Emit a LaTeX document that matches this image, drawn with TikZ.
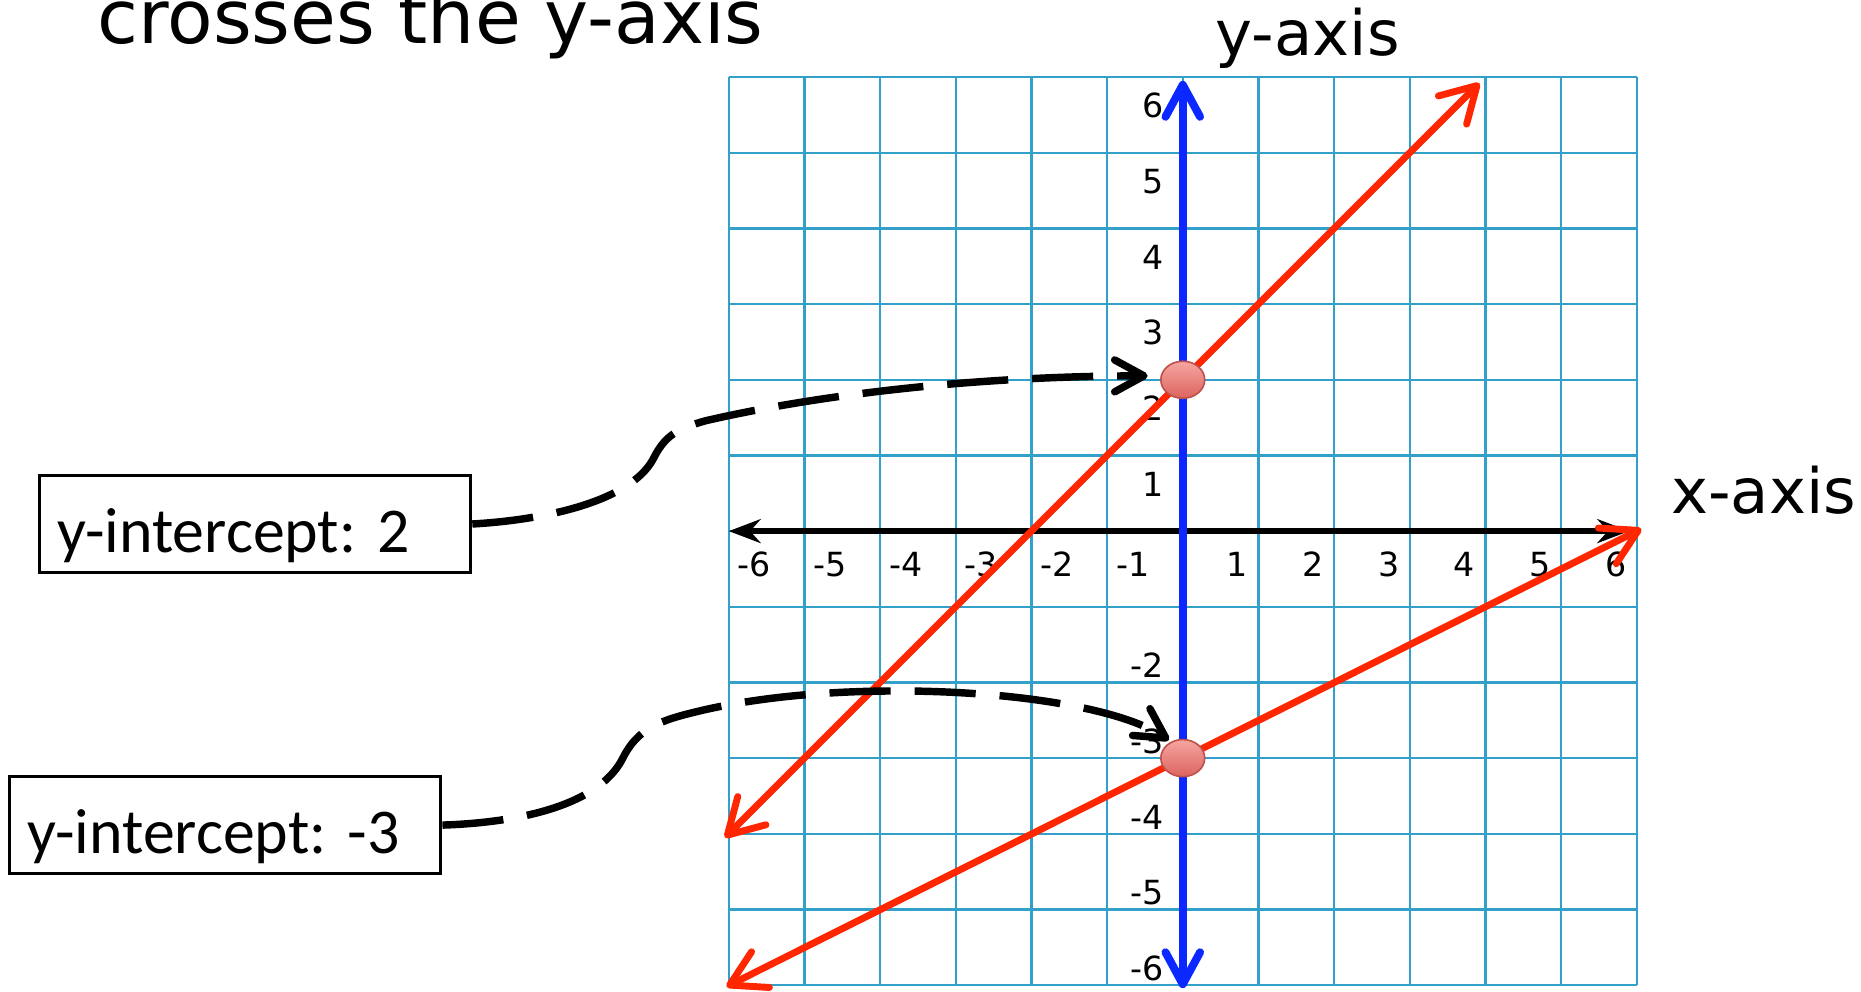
\documentclass[tikz,border=0pt]{standalone}
\usepackage{fontspec}
\setmainfont{DejaVu Sans}
\newfontfamily\calfont{Carlito}
\usetikzlibrary{arrows.meta,positioning,calc,shapes.geometric}

\definecolor{gridline}{RGB}{50,160,200}
\definecolor{yaxisblue}{RGB}{10,40,255}
\definecolor{graphred}{RGB}{255,38,0}
\definecolor{dotrim}{RGB}{190,80,75}
\definecolor{dottop}{RGB}{246,165,160}
\definecolor{dotbot}{RGB}{220,100,95}

\begin{document}
\begin{tikzpicture}[>={Straight Barb[length=12pt,width=13pt,round]}]
  \tikzstyle{tick}=[inner sep=0pt, font=\fontsize{12.5}{15}\selectfont]
  \tikzstyle{redline}=[graphred, line width=2.6pt, {Straight Barb[length=13pt,width=15pt,round]}-{Straight Barb[length=13pt,width=15pt,round]}]
  \tikzstyle{labelbox}=[draw, line width=1.2pt, inner xsep=0.24cm, inner ysep=0pt, text width=5.22cm, minimum height=1.28cm, text height=0.9cm, text depth=0.14cm, align=left, font=\calfont\fontsize{24}{29}\selectfont\frenchspacing]
  \tikzstyle{icpt}=[ellipse, inner sep=0pt, minimum width=0.58cm, minimum height=0.49cm, draw=dotrim, line width=0.6pt, top color=dottop, bottom color=dotbot]
  \tikzstyle{lead}=[line width=2.8pt, dash pattern=on 23pt off 9pt, -{Straight Barb[length=11pt,width=12pt,round]}]
  \useasboundingbox (-15.631,-6.078) rectangle (8.963,7.019);

  % grid and numbers
  \draw[gridline, line width=0.9pt] (-6,-6) grid (6,6);
  \foreach \k [count=\i] in {-6,...,-2} {
    \node[tick, anchor=base east] (yn\i) at (-0.24,\k+0.06) {\k};
  }
  \foreach \k [count=\i] in {-6,...,-1} {
    \node[tick, anchor=base] (xn\i) at (\k+0.34,-0.6) {\k};
  }
  \foreach \k in {1,...,6} {
    \node[tick, anchor=base] (xp\k) at (\k-0.28,-0.6) {\k};
    \node[tick, anchor=base east] (yp\k) at (-0.24,\k-0.54) {\k};
  }

  % axes
  \draw[line width=2.4pt, {Stealth[length=12pt,width=9pt,inset=4pt]}-{Stealth[length=12pt,width=9pt,inset=4pt]}] (-6,0) -- (5.9,0);
  \draw[yaxisblue, line width=3pt, <->] (0,-6.04) -- (0,5.95);

  % the two lines
  \draw[redline] (-6.05,-4.05) -- (3.92,5.92);
  \draw[redline] (-6.03,-6.02) -- (6.06,0.03);

  \node[icpt] (ptA) at (0,2) {};
  \node[icpt] (ptB) at (0,-3) {};

  \node[anchor=base west, inner sep=0pt, font=\fontsize{28}{34}\selectfont] (title) at (-14.35,6.44) {crosses the y-axis};
  \node[anchor=base west, inner sep=0pt, font=\fontsize{23.5}{28}\selectfont] (ylbl) at (0.43,6.29) {y-axis};
  \node[anchor=base west, inner sep=0pt, font=\fontsize{23.5}{28}\selectfont] (xlbl) at (6.45,0.235) {x-axis};

  \node[labelbox] (box2) at (-12.26,0.094) {y-intercept: 2};
  \node[labelbox] (boxm3) at (-12.655,-3.885) {y-intercept: -3};

  \draw[lead, shorten >=0.17cm] (box2.east) .. controls (-8.4,0.15) and (-7.3,0.4) .. (-7.0,0.95)
    .. controls (-6.85,1.25) and (-6.7,1.35) .. (-6.3,1.46)
    .. controls (-4.6,1.85) and (-2.5,2.05) .. (ptA.170);
  \draw[lead, shorten >=1pt] (boxm3.east) .. controls (-8.7,-3.85) and (-7.7,-3.6) .. (-7.4,-3.0)
    .. controls (-7.2,-2.6) and (-6.9,-2.5) .. (-6.4,-2.38)
    .. controls (-4.4,-1.9) and (-1.2,-2.1) .. (ptB.125);
\end{tikzpicture}
\end{document}
